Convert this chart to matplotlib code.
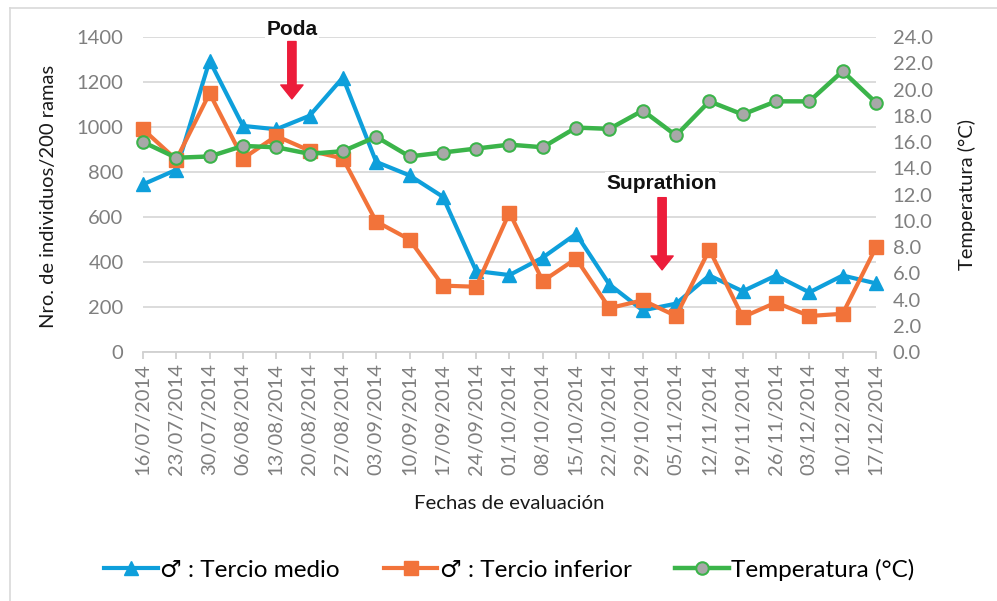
import matplotlib
matplotlib.use('Agg')
import matplotlib.pyplot as plt
from matplotlib.lines import Line2D

# fechas de evaluacion
fechas = ['16/07/2014', '23/07/2014', '30/07/2014', '06/08/2014', '13/08/2014',
          '20/08/2014', '27/08/2014', '03/09/2014', '10/09/2014', '17/09/2014',
          '24/09/2014', '01/10/2014', '08/10/2014', '15/10/2014', '22/10/2014',
          '29/10/2014', '05/11/2014', '12/11/2014', '19/11/2014', '26/11/2014',
          '03/12/2014', '10/12/2014', '17/12/2014']

tercio_medio = [745, 810, 1295, 1005, 990, 1050, 1220, 845, 785, 690, 360, 342,
                420, 525, 300, 185, 215, 340, 270, 340, 265, 340, 305]

tercio_inferior = [990, 855, 1150, 860, 960, 895, 860, 580, 500, 295, 290, 620,
                   315, 415, 195, 230, 160, 455, 155, 220, 160, 170, 465]

temperatura = [16.0, 14.8, 14.9, 15.7, 15.6, 15.1, 15.3, 16.4, 14.9, 15.2, 15.5, 15.8,
               15.6, 17.1, 17.0, 18.4, 16.5, 19.1, 18.1, 19.1, 19.1, 21.4, 19.0]

FONT = ['Lato', 'DejaVu Sans']
plt.rcParams['font.family'] = FONT

BLUE = '#0E9FDB'
ORANGE = '#F2733A'
GREEN = '#3BB44A'
GREY = '#A8A8A8'
RED = '#EC1C3A'
TICKC = '#7F7F7F'

fig = plt.figure(figsize=(9.97, 6.01), dpi=100)
ax = fig.add_axes([0.1434, 0.4143, 0.7352, 0.5241])
ax2 = ax.twinx()

x = list(range(len(fechas)))

ax.plot(x, tercio_medio, color=BLUE, lw=3, marker='^', ms=10, mec=BLUE, mfc=BLUE,
        clip_on=False, zorder=3)
ax.plot(x, tercio_inferior, color=ORANGE, lw=3, marker='s', ms=10, mec=ORANGE, mfc=ORANGE,
        clip_on=False, zorder=4)
ax2.plot(x, temperatura, color=GREEN, lw=3.2, marker='o', ms=9, mec=GREEN, mfc=GREY,
         mew=1.5, clip_on=False, zorder=5)

ax.set_xlim(0, 22)
ax.set_ylim(0, 1400)
ax.set_yticks(range(0, 1401, 200))
ax2.set_ylim(0, 24)
ax2.set_yticks([i * 2.0 for i in range(13)])
ax2.set_yticklabels(['%.1f' % (i * 2.0) for i in range(13)])

ax.set_xticks(x)
ax.set_xticklabels(fechas, rotation=90)

ax.yaxis.grid(True, color='#D9D9D9', lw=1.3)
ax.set_axisbelow(True)
for a in (ax, ax2):
    for s in ('top', 'left', 'right'):
        a.spines[s].set_visible(False)
ax2.spines['bottom'].set_visible(False)
ax.spines['bottom'].set_color('#D0D0D0')
ax.spines['bottom'].set_linewidth(1.3)

ax.tick_params(axis='x', colors='#D0D0D0', length=5, width=1.3, pad=3,
               labelcolor=TICKC, labelsize=14.5)
ax.tick_params(axis='y', length=0, pad=14, labelcolor=TICKC, labelsize=14.5)
ax2.tick_params(axis='y', length=0, pad=12, labelcolor=TICKC, labelsize=14.5)

ax.set_ylabel('Nro. de individuos/200 ramas', fontsize=14.5, color='#1a1a1a')
ax.yaxis.set_label_coords(-0.117, 0.495)
ax2.set_ylabel('Temperatura (°C)', fontsize=14.5, color='#1a1a1a', rotation=90)
ax2.yaxis.set_label_coords(1.112, 0.5)
ax.set_xlabel('Fechas de evaluación', fontsize=14.7, color='#1a1a1a')
ax.xaxis.set_label_coords(0.5, -0.454)

# anotaciones
ann_font = ['Liberation Sans Narrow', 'Liberation Sans', 'DejaVu Sans']
ax.text(4.47, 1432, 'Poda', fontsize=15, fontweight='bold', family=ann_font,
        ha='center', va='center', color='#111111', clip_on=False, zorder=10,
        bbox=dict(facecolor='white', edgecolor='none', pad=1))
ax.annotate('', xy=(4.47, 1125), xytext=(4.47, 1380),
            arrowprops=dict(width=6, headwidth=16, headlength=10, color=RED, shrink=0),
            annotation_clip=False, zorder=10)

ax.text(15.58, 751, 'Suprathion', fontsize=15, fontweight='bold', family=ann_font,
        ha='center', va='center', color='#111111', zorder=10,
        bbox=dict(facecolor='white', edgecolor='none', pad=1))
ax.annotate('', xy=(15.58, 365), xytext=(15.58, 686),
            arrowprops=dict(width=6, headwidth=16, headlength=10, color=RED, shrink=0),
            zorder=10)

handles = [
    Line2D([], [], color=BLUE, lw=3, marker='^', ms=10, mfc=BLUE, mec=BLUE),
    Line2D([], [], color=ORANGE, lw=3, marker='s', ms=10, mfc=ORANGE, mec=ORANGE),
    Line2D([], [], color=GREEN, lw=3.2, marker='o', ms=9, mfc=GREY, mec=GREEN, mew=1.5),
]
labels = ['♂ : Tercio medio', '♂ : Tercio inferior', 'Temperatura (°C)']
fig.legend(handles, labels, loc='center', bbox_to_anchor=(0.511, 0.052), ncol=3,
           frameon=False, handlelength=2.2, columnspacing=1.8,
           handletextpad=0.1, prop={'family': FONT, 'size': 17.5})

# borde de la figura
fig.add_artist(Line2D([0.01, 1.0], [0.9867, 0.9867], color='#D9D9D9', lw=1.2))
fig.add_artist(Line2D([0.01, 0.01], [0.0, 0.9867], color='#D9D9D9', lw=1.2))

fig.savefig('out.png', dpi=100)
